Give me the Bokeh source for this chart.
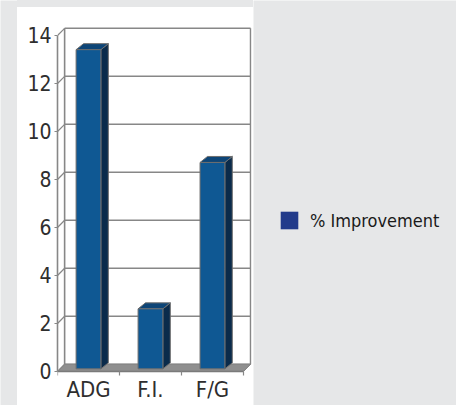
from bokeh.plotting import figure
from bokeh.models import (Range1d, FixedTicker, LinearAxis, Legend, LegendItem,
                          ColumnDataSource, Div)
from bokeh.layouts import row, column
from bokeh.embed import file_html
from bokeh.resources import INLINE

# ---- data ----
categories = ["ADG", "F.I.", "F/G"]
improvement = [13.3, 2.5, 8.6]
y_ticks = [0, 2, 4, 6, 8, 10, 12, 14]
series_label = "% Improvement"

# ---- style ----
BG = "#e6e7e8"
FONT = "DejaVu Sans Condensed"
GRID = "#878787"
FRONT = "#0f5893"
SIDE = "#0a2b4b"
TOP = "#0d4577"
EDGE = "#6e6e6e"
LEGEND_SWATCH = "#223b8b"

n = len(categories)
ymax = max(y_ticks)
centers = [i + 0.5 for i in range(n)]

# depth offsets (data units) for pseudo-3D
wdx, wdy = 0.115, 0.30      # wall depth
bdx, bdy = 0.12, 0.25       # bar depth
by = 0.11                   # bar base offset
bw = 0.40                   # bar width


def filler(w, h):
    f = figure(width=w, height=h, output_backend="svg", toolbar_location=None,
               x_axis_location=None, y_axis_location=None, min_border=0,
               x_range=Range1d(0, 1), y_range=Range1d(0, 1),
               background_fill_color=BG, border_fill_color=BG, outline_line_color=None)
    for g in f.grid:
        g.visible = False
    return f


p = figure(width=236, height=398, x_range=Range1d(0, 3.13), y_range=Range1d(-1.417, 14.375),
           output_backend="svg", toolbar_location=None,
           x_axis_location=None, y_axis_location=None,
           min_border_left=40, min_border_right=2, min_border_top=19, min_border_bottom=0,
           background_fill_color="white", border_fill_color="white", outline_line_color=None)
for g in p.grid:
    g.visible = False

# floor
p.patch(x=[0, n, n + wdx, wdx], y=[0, 0, wdy, wdy], fill_color="#8f8f8f",
        line_color="#7d7d7d", line_width=1)

# back wall gridlines
p.segment(x0=[wdx] * len(y_ticks), y0=[t + wdy for t in y_ticks],
          x1=[n + wdx] * len(y_ticks), y1=[t + wdy for t in y_ticks],
          line_color=GRID, line_width=1.6)
# back wall vertical edges
p.segment(x0=[wdx, n + wdx], y0=[wdy, wdy], x1=[wdx, n + wdx], y1=[ymax + wdy, ymax + wdy],
          line_color=GRID, line_width=1.6)
# side wall diagonals
p.segment(x0=[0] * len(y_ticks), y0=y_ticks, x1=[wdx] * len(y_ticks),
          y1=[t + wdy for t in y_ticks], line_color=GRID, line_width=1.2)

# bars: side faces, top faces, front faces
side_xs = [[c + bw / 2, c + bw / 2, c + bw / 2 + bdx, c + bw / 2 + bdx] for c in centers]
side_ys = [[by, by + v, by + v + bdy, by + bdy] for v in improvement]
p.patches(xs=side_xs, ys=side_ys, fill_color=SIDE, line_color=EDGE, line_width=1)
top_xs = [[c - bw / 2, c + bw / 2, c + bw / 2 + bdx, c - bw / 2 + bdx] for c in centers]
top_ys = [[by + v, by + v, by + v + bdy, by + v + bdy] for v in improvement]
p.patches(xs=top_xs, ys=top_ys, fill_color=TOP, line_color=EDGE, line_width=1)
src = ColumnDataSource(dict(x=centers, top=[v + by for v in improvement], bottom=[by] * n))
p.vbar(x="x", top="top", bottom="bottom", width=bw, source=src,
       fill_color=FRONT, line_color=EDGE, line_width=1)

# y axis
yaxis = LinearAxis(ticker=FixedTicker(ticks=y_ticks, minor_ticks=[]), bounds=(0, ymax),
                   axis_line_color=GRID, axis_line_width=1.6,
                   major_tick_line_color=GRID, major_tick_line_width=1.2,
                   major_tick_out=3, major_tick_in=0, minor_tick_out=0, minor_tick_in=0,
                   major_label_standoff=3,
                   major_label_text_font=FONT, major_label_text_font_size="21px",
                   major_label_text_color="#2e2e2e")
p.add_layout(yaxis, "left")

# x axis
xaxis = LinearAxis(ticker=FixedTicker(ticks=centers, minor_ticks=list(range(n + 1))),
                   fixed_location=0, bounds=(0, n),
                   major_label_overrides={c: lab for c, lab in zip(centers, categories)},
                   axis_line_color="#7a7a7a", axis_line_width=1.6,
                   major_tick_out=0, major_tick_in=0,
                   minor_tick_out=4, minor_tick_in=0,
                   minor_tick_line_color=GRID, minor_tick_line_width=1.2,
                   major_label_standoff=2,
                   major_label_text_font=FONT, major_label_text_font_size="22px",
                   major_label_text_color="#2e2e2e")
p.add_layout(xaxis, "below")

# legend panel
lf = filler(203, 405)
r = lf.quad(left=[0.2], right=[0.4], top=[-1.0], bottom=[-2.0],
            fill_color=LEGEND_SWATCH, line_color=None)
legend = Legend(items=[LegendItem(label=series_label, renderers=[r])],
                location=(25, 174), glyph_width=22, glyph_height=22, label_height=22,
                label_standoff=10, padding=0, margin=0, spacing=0,
                border_line_color=None, background_fill_alpha=0,
                label_text_font=FONT, label_text_font_size="18px",
                label_text_color="#1a1a1a")
lf.add_layout(legend, "center")

top_strip = Div(text="", width=236, height=7,
                styles={"background-color": BG, "margin": "0", "padding": "0"})

layout = row(filler(17, 405), column(top_strip, p), lf)

open("out.html", "w").write(file_html(layout, INLINE))
